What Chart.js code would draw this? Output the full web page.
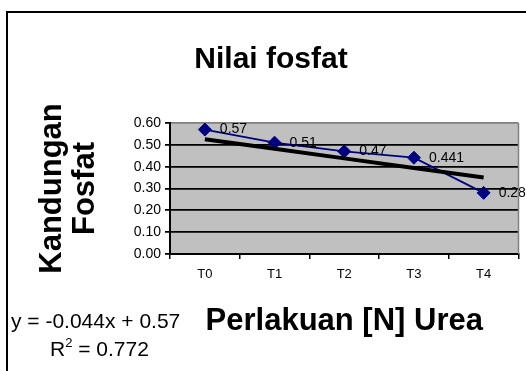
<!DOCTYPE html>
<html>
<head>
<meta charset="utf-8">
<script src="https://cdn.jsdelivr.net/npm/chart.js@4"></script>
<style>
  html, body { margin: 0; padding: 0; background: #fff; overflow: hidden; }
  canvas { display: block; }
</style>
</head>
<body>
<canvas id="chart" width="526" height="371"></canvas>
<script>
// Phosphate content per urea nitrogen treatment
const categories = ['T0', 'T1', 'T2', 'T3', 'T4'];
const fosfatValues = [0.57, 0.51, 0.47, 0.441, 0.28];

// Linear trendline as stated by its equation label
const trendSlope = -0.044;
const trendIntercept = 0.57;
const trendR2 = 0.772;

const yMin = 0;
const yMax = 0.6;
const yStep = 0.1;

const chartTitle = 'Nilai fosfat';
const yTitleLines = ['Kandungan', 'Fosfat'];
const xTitle = 'Perlakuan [N] Urea';

const FONT = "'Liberation Sans', Arial, sans-serif";

// trendline y = a*x + b, with x = 1..n over the categories
const trendValues = categories.map((_, i) => trendIntercept + trendSlope * (i + 1));

const plotDecor = {
  id: 'plotDecor',
  beforeDraw(chart) {
    const { ctx, chartArea: a } = chart;
    ctx.save();
    // outer frame
    ctx.strokeStyle = '#000';
    ctx.lineWidth = 2;
    ctx.strokeRect(7, 12, 560, 420);
    // plot area fill
    ctx.fillStyle = '#c0c0c0';
    ctx.fillRect(a.left, a.top, a.right - a.left, a.bottom - a.top);
    ctx.restore();
  },
  afterDraw(chart) {
    const { ctx, chartArea: a } = chart;
    ctx.save();
    // grey right edge of the plot
    ctx.strokeStyle = '#808080';
    ctx.lineWidth = 1.5;
    ctx.beginPath();
    ctx.moveTo(a.right, a.top);
    ctx.lineTo(a.right, a.bottom);
    ctx.stroke();

    // trendline equation and R squared
    ctx.fillStyle = '#000';
    ctx.textBaseline = 'middle';
    ctx.textAlign = 'left';
    ctx.font = `21px ${FONT}`;
    ctx.fillText(`y = ${trendSlope}x + ${trendIntercept}`, 11, 322);
    let x = 50;
    ctx.fillText('R', x, 350);
    x += ctx.measureText('R').width;
    ctx.font = `13px ${FONT}`;
    ctx.fillText('2', x, 343);
    x += ctx.measureText('2').width;
    ctx.font = `21px ${FONT}`;
    ctx.fillText(` = ${trendR2}`, x, 350);
    ctx.restore();
  },
  afterDatasetsDraw(chart) {
    const { ctx } = chart;
    const meta = chart.getDatasetMeta(0);
    ctx.save();
    ctx.fillStyle = '#000';
    ctx.font = `14px ${FONT}`;
    ctx.textBaseline = 'middle';
    ctx.textAlign = 'left';
    meta.data.forEach((pt, i) => {
      ctx.fillText(String(fosfatValues[i]), pt.x + 15, pt.y);
    });
    ctx.restore();
  }
};

Chart.defaults.font.family = FONT;
Chart.defaults.color = '#000';

new Chart(document.getElementById('chart'), {
  type: 'line',
  data: {
    labels: categories,
    datasets: [
      {
        label: 'Fosfat',
        data: fosfatValues,
        borderColor: '#000080',
        backgroundColor: '#000080',
        borderWidth: 1.75,
        pointStyle: 'rectRot',
        pointRadius: 6.5,
        pointBorderWidth: 1,
        pointBorderColor: '#000080',
        pointBackgroundColor: '#000080',
        tension: 0,
        order: 1
      },
      {
        label: 'Linear (Fosfat)',
        data: trendValues,
        borderColor: '#000',
        borderWidth: 4,
        pointRadius: 0,
        tension: 0,
        order: 0
      }
    ]
  },
  options: {
    responsive: false,
    animation: false,
    devicePixelRatio: 1,
    layout: { padding: { left: 22, right: 6, top: 0, bottom: 0 } },
    plugins: {
      legend: { display: false },
      tooltip: { enabled: false },
      title: {
        display: true,
        text: chartTitle,
        color: '#000',
        font: { size: 30, weight: 'bold', lineHeight: 1.2 },
        padding: { top: 42, bottom: 45 }
      }
    },
    scales: {
      x: {
        type: 'category',
        offset: true,
        grid: {
          display: true,
          drawOnChartArea: false,
          drawTicks: true,
          tickLength: 5,
          offset: true,
          color: '#000',
          lineWidth: 1.5
        },
        border: { display: true, color: '#000', width: 2 },
        ticks: { font: { size: 13 }, padding: 8, color: '#000', maxRotation: 0 },
        title: {
          display: true,
          text: xTitle,
          color: '#000',
          font: { size: 31, weight: 'bold', lineHeight: 1.2 },
          padding: { top: 0, bottom: 31 }
        },
        afterFit(scale) { scale.height = 117; }
      },
      y: {
        min: yMin,
        max: yMax,
        ticks: {
          stepSize: yStep,
          font: { size: 14 },
          padding: 4,
          color: '#000',
          callback: v => Number(v).toFixed(2)
        },
        grid: {
          color: ctx => (ctx.tick && Math.abs(ctx.tick.value - yMax) < 1e-9) ? '#808080' : '#000',
          lineWidth: 1.75,
          tickLength: 5,
          tickColor: '#000'
        },
        border: { display: true, color: '#000', width: 2 },
        title: {
          display: true,
          text: yTitleLines,
          color: '#000',
          font: { size: 31, weight: 'bold', lineHeight: '33px' },
          padding: { top: 14, bottom: 0 }
        },
        afterFit(scale) { scale.width = 148; }
      }
    }
  },
  plugins: [plotDecor]
});
</script>
</body>
</html>
